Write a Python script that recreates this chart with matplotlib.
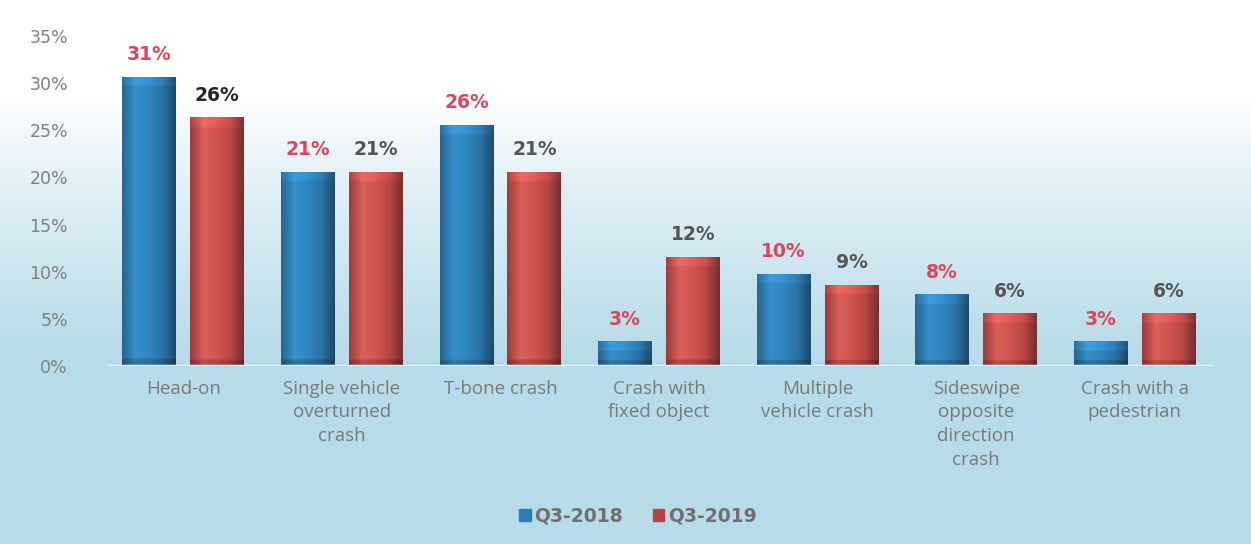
import numpy as np
import matplotlib
matplotlib.use("Agg")
import matplotlib.pyplot as plt
from matplotlib.colors import LinearSegmentedColormap

categories = ["Head-on", "Single vehicle\noverturned\ncrash", "T-bone crash",
              "Crash with\nfixed object", "Multiple\nvehicle crash",
              "Sideswipe\nopposite\ndirection\ncrash", "Crash with a\npedestrian"]
q3_2018 = [30.7, 20.6, 25.6, 2.6, 9.8, 7.6, 2.6]
q3_2019 = [26.4, 20.6, 20.6, 11.6, 8.6, 5.6, 5.6]
series_names = ["Q3-2018", "Q3-2019"]
yticks = [0, 5, 10, 15, 20, 25, 30, 35]

W, H = 1251, 544
fig = plt.figure(figsize=(W / 100, H / 100), dpi=100)

# background gradient: white on top, pale blue further down
bg = fig.add_axes([0, 0, 1, 1], zorder=0)
bg.set_axis_off()
t = np.linspace(0, 1, 256)  # 0 = top, 1 = bottom
ramp = np.clip((t - 0.18) / 0.47, 0, 1) ** 0.85
top = np.array([1.0, 1.0, 1.0])
bottom = np.array([0.72, 0.86, 0.91])
col = top[None, :] * (1 - ramp[:, None]) + bottom[None, :] * ramp[:, None]
bg.imshow(col[:, None, :], aspect="auto", extent=[0, 1, 0, 1])

ax = fig.add_axes([104 / W, 178 / H, 1110 / W, 330 / H], zorder=1)
ax.patch.set_alpha(0)
for s in ax.spines.values():
    s.set_visible(False)

x = np.arange(len(categories))
bw = 0.34
off = 0.214

blue_cmap = LinearSegmentedColormap.from_list(
    "b", ["#2a668f", "#3690cc", "#3186c0", "#2a73a6", "#1e4c6c"])
red_cmap = LinearSegmentedColormap.from_list(
    "r", ["#9c3c3c", "#d9605b", "#d05550", "#b94745", "#743030"])

row = np.linspace(0, 1, 80)


def draw_series(xs, vals, cmap):
    bars = ax.bar(xs, vals, width=bw, color="none", edgecolor="none", zorder=2)
    for b in bars:
        x0, y0 = b.get_x(), b.get_y()
        w, hh = b.get_width(), b.get_height()
        n = 120
        yy = np.linspace(hh, 0, n)[:, None]  # top row first
        rgb = cmap(row)[None, :, :3].repeat(n, axis=0)
        # lighter bevel at the top, darker foot at the bottom
        shade = np.ones((n, 1))
        shade += 0.09 * (yy > hh - 1.0)
        shade -= 0.18 * (yy < 0.6)
        img = np.clip(rgb * shade[:, :, None], 0, 1)
        im = ax.imshow(img, aspect="auto", extent=[x0, x0 + w, y0, y0 + hh],
                       zorder=2, interpolation="bilinear")
        im.set_clip_path(b)
    return bars


draw_series(x - off, q3_2018, blue_cmap)
draw_series(x + off, q3_2019, red_cmap)

ax.set_xlim(-0.5, 6.5)
ax.set_ylim(0, 35)
ax.axhline(0, xmin=0.005, xmax=1.0, color="#eef3f5", lw=2.5, zorder=4)

ax.set_yticks(yticks)
ax.set_yticklabels([f"{v}%" for v in yticks], color="#808080", fontsize=12.5,
                   family="DejaVu Sans")
ax.tick_params(axis="y", length=0, pad=26)
ax.set_xticks(x)
ax.set_xticklabels(categories, color="#7a7a7a", fontsize=13.5,
                   family="Open Sans", linespacing=1.4, va="top")
ax.tick_params(axis="x", length=0, pad=10)

for i in range(len(categories)):
    ax.annotate(f"{q3_2018[i]:.0f}%", (x[i] - off, q3_2018[i]),
                xytext=(0, 9), textcoords="offset points", ha="center",
                va="bottom", fontsize=13.5, fontweight="bold", color="#dc4560")
    c2 = "#262626" if i == 0 else "#555555"
    ax.annotate(f"{q3_2019[i]:.0f}%", (x[i] + off, q3_2019[i]),
                xytext=(0, 9), textcoords="offset points", ha="center",
                va="bottom", fontsize=13.5, fontweight="bold", color=c2)

handles = [plt.Rectangle((0, 0), 1, 1, color="#2f7db4"),
           plt.Rectangle((0, 0), 1, 1, color="#b94342")]
leg = fig.legend(handles, series_names, loc="center", bbox_to_anchor=(0.51, 0.052),
                 ncol=2, frameon=False, handlelength=0.6, handleheight=0.6,
                 handletextpad=0.2, columnspacing=1.6,
                 prop={"size": 13.5, "weight": "bold", "family": "DejaVu Sans"})
for txt in leg.get_texts():
    txt.set_color("#707070")

fig.savefig("out.png", dpi=100)
